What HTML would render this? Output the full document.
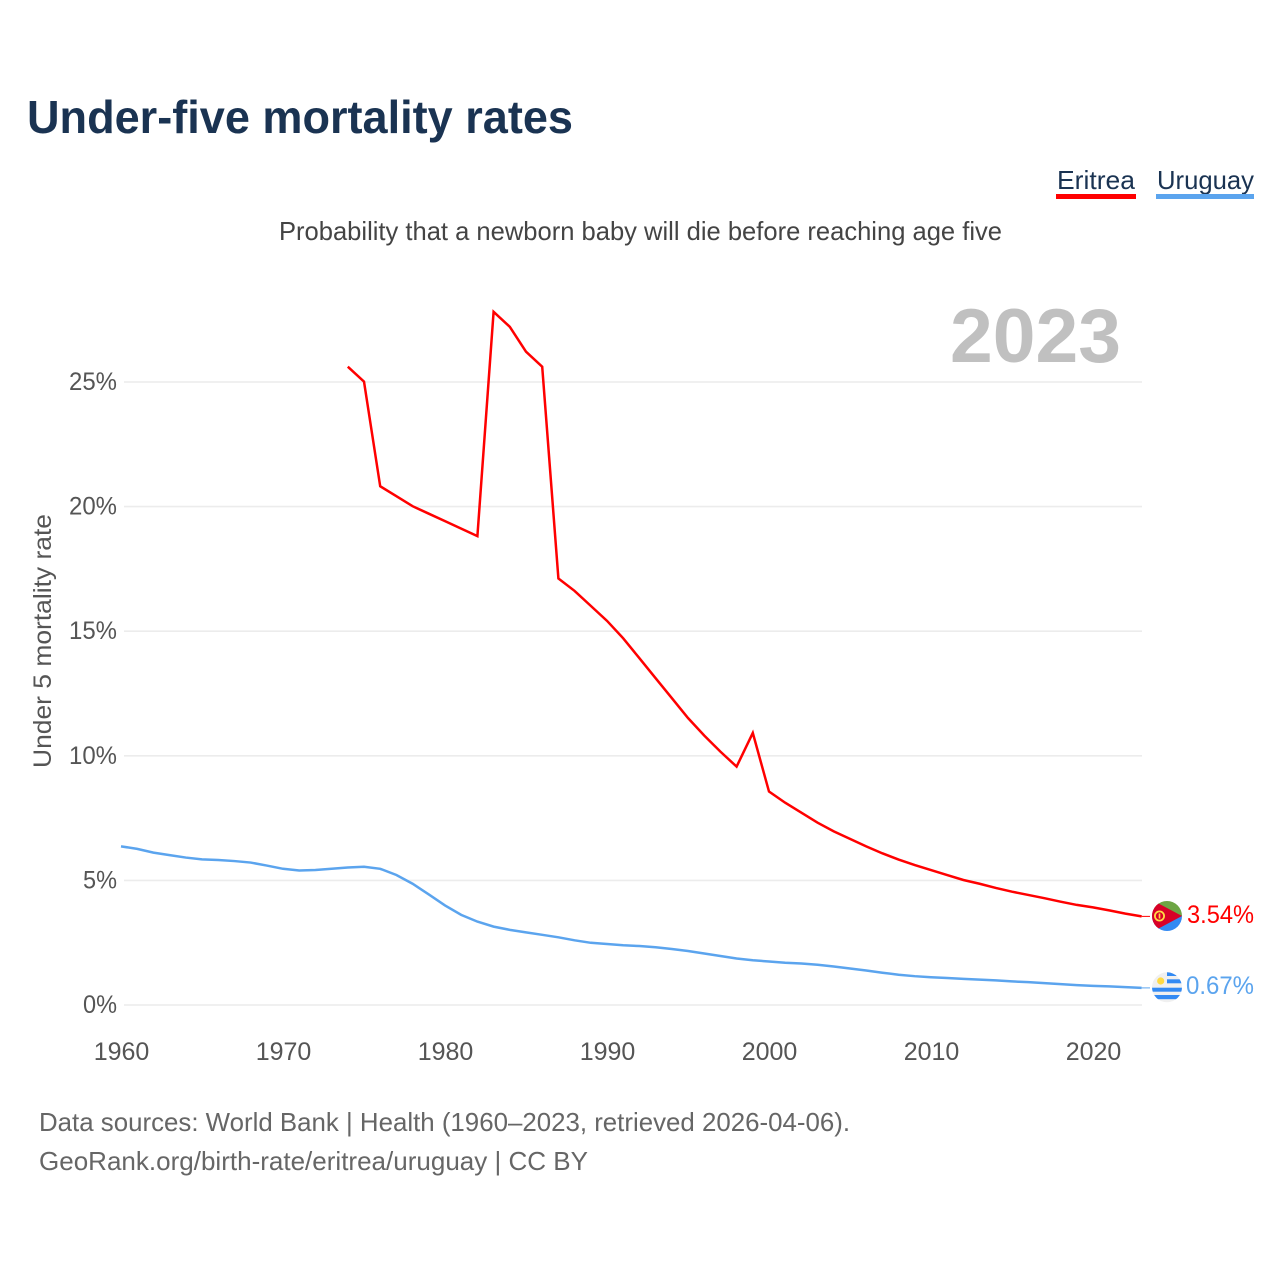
<!DOCTYPE html>
<html lang="en">
<head>
<meta charset="utf-8">
<title>Under-five mortality rates</title>
<style>
html,body{margin:0;padding:0;background:#fff;width:1280px;height:1280px;overflow:hidden}
svg{display:block;font-family:"Liberation Sans",sans-serif}
</style>
</head>
<body>
<svg id="chart" width="1280" height="1280" viewBox="0 0 1280 1280" xmlns="http://www.w3.org/2000/svg">
  <defs>
    <clipPath id="flag-er"><circle cx="1167" cy="916" r="15"/></clipPath>
    <clipPath id="flag-uy"><circle cx="1167" cy="987.3" r="15"/></clipPath>
  </defs>
  <text x="27" y="133" font-size="46" font-weight="700" fill="#1a3352" textLength="546" lengthAdjust="spacingAndGlyphs">Under-five mortality rates</text>

  <g>
    <g>
      <text x="1057" y="189" font-size="26" fill="#1a3352" textLength="78" lengthAdjust="spacingAndGlyphs">Eritrea</text>
      <rect x="1056" y="194" width="80" height="5" fill="#ff0000"/>
    </g>
    <g>
      <text x="1157" y="189" font-size="26" fill="#1a3352" textLength="97" lengthAdjust="spacingAndGlyphs">Uruguay</text>
      <rect x="1156" y="194" width="98" height="5" fill="#5ba4ee"/>
    </g>
  </g>

  <text x="279" y="240" font-size="26" fill="#444444" textLength="723" lengthAdjust="spacingAndGlyphs">Probability that a newborn baby will die before reaching age five</text>
  <text x="950" y="362" font-size="76" font-weight="700" fill="#c0c0c0" textLength="171" lengthAdjust="spacingAndGlyphs">2023</text>

  <g id="grid"></g>
  <g id="yticks"></g>
  <g id="xticks"></g>
  <text transform="translate(51,768) rotate(-90)" x="0" y="0" font-size="25" fill="#555555" textLength="254" lengthAdjust="spacingAndGlyphs">Under 5 mortality rate</text>
  <g id="series"></g>

  <g clip-path="url(#flag-er)">
    <rect x="1150" y="899" width="34" height="17" fill="#6da544"/>
    <rect x="1150" y="916" width="34" height="17" fill="#338af3"/>
    <polygon points="1152,900 1152,932 1182,916" fill="#d80027"/>
    <rect x="1150" y="899" width="2" height="34" fill="#d80027"/>
    <circle cx="1159.5" cy="916" r="4.6" fill="none" stroke="#ffda44" stroke-width="1.8"/>
    <rect x="1158.7" y="913.5" width="1.6" height="5" fill="#ffda44"/>
  </g>
  <g clip-path="url(#flag-uy)">
    <rect x="1150" y="970" width="34" height="34" fill="#f0f0f0"/>
    <rect x="1167" y="972" width="17" height="4" fill="#338af3"/>
    <rect x="1167" y="979.3" width="17" height="4" fill="#338af3"/>
    <rect x="1150" y="987.7" width="34" height="4" fill="#338af3"/>
    <rect x="1150" y="995" width="34" height="4.2" fill="#338af3"/>
    <circle cx="1160.7" cy="981" r="3.6" fill="#ffda44"/>
  </g>

  <text x="1187" y="923" font-size="25" fill="#ff0000" textLength="67" lengthAdjust="spacingAndGlyphs">3.54%</text>
  <text x="1186" y="994" font-size="25" fill="#5ba4ee" textLength="68" lengthAdjust="spacingAndGlyphs">0.67%</text>

  <text x="39" y="1131" font-size="26" fill="#666666" textLength="811" lengthAdjust="spacingAndGlyphs">Data sources: World Bank | Health (1960–2023, retrieved 2026-04-06).</text>
  <text x="39" y="1170" font-size="26" fill="#666666" textLength="549" lengthAdjust="spacingAndGlyphs">GeoRank.org/birth-rate/eritrea/uruguay | CC BY</text>
</svg>
<script>
const yTickValues = [0, 5, 10, 15, 20, 25];
const xTickYears = [1960, 1970, 1980, 1990, 2000, 2010, 2020];
const eritreaStartYear = 1974;
const eritreaValues = [25.6,25.0,20.8,20.4,20.0,19.7,19.4,19.1,18.8,27.8,27.2,26.2,25.6,17.1,16.6,16.0,15.4,14.7,13.9,13.1,12.3,11.5,10.8,10.15,9.55,10.9,8.55,8.1,7.7,7.3,6.95,6.65,6.35,6.07,5.82,5.6,5.4,5.2,5.0,4.85,4.68,4.53,4.4,4.27,4.13,4.0,3.9,3.78,3.65,3.54];
const uruguayStartYear = 1960;
const uruguayValues = [6.35,6.25,6.1,6.0,5.9,5.83,5.8,5.76,5.7,5.58,5.45,5.38,5.4,5.45,5.5,5.53,5.45,5.2,4.85,4.42,3.98,3.6,3.33,3.13,3.0,2.9,2.8,2.7,2.58,2.48,2.43,2.38,2.35,2.3,2.23,2.15,2.05,1.95,1.85,1.78,1.73,1.68,1.65,1.6,1.53,1.45,1.37,1.28,1.2,1.14,1.1,1.07,1.03,1.0,0.97,0.93,0.9,0.86,0.82,0.78,0.75,0.73,0.7,0.67];

const NS = 'http://www.w3.org/2000/svg';
const xScale = function (year) { return 121 + (year - 1960) * 16.2; };
const yScale = function (v) { return 1004.6 - v * 24.92; };

function make(tag, parent) {
  const el = document.createElementNS(NS, tag);
  parent.appendChild(el);
  return el;
}

const grid = document.getElementById('grid');
const yticks = document.getElementById('yticks');
const xticks = document.getElementById('xticks');
const series = document.getElementById('series');

yTickValues.forEach(function (v) {
  const line = make('line', grid);
  
  
  line.setAttribute('x1', 124);
  line.setAttribute('x2', 1142);
  line.setAttribute('y1', 1005 - v * 24.92);
  line.setAttribute('y2', 1005 - v * 24.92);
  line.setAttribute('stroke', '#ececec');
  line.setAttribute('stroke-width', 1.6);

  const label = make('text', yticks);
  
  
  label.setAttribute('x', 117);
  label.setAttribute('y', 1005 - v * 24.92 + 8);
  label.setAttribute('text-anchor', 'end');
  label.setAttribute('font-size', 25);
  label.setAttribute('fill', '#555555');
  label.setAttribute('textLength', v >= 10 ? 48 : 34);
  label.setAttribute('lengthAdjust', 'spacingAndGlyphs');
  label.textContent = v + '%';
});

xTickYears.forEach(function (year) {
  const label = make('text', xticks);
  
  
  label.setAttribute('x', xScale(year) + 0.5);
  label.setAttribute('y', 1060);
  label.setAttribute('text-anchor', 'middle');
  label.setAttribute('font-size', 25);
  label.setAttribute('fill', '#555555');
  label.textContent = String(year);
});

function drawSeries(values, startYear, color, name) {
  const pts = values.map(function (v, i) {
    return xScale(startYear + i).toFixed(2) + ',' + yScale(v).toFixed(2);
  });
  const line = make('polyline', series);
  
  
  line.setAttribute('points', pts.join(' '));
  line.setAttribute('fill', 'none');
  line.setAttribute('stroke', color);
  line.setAttribute('stroke-width', 2.5);
  line.setAttribute('stroke-linejoin', 'miter');

  const last = values[values.length - 1];
  const lead = make('line', series);
  
  
  lead.setAttribute('x1', xScale(startYear + values.length - 1));
  lead.setAttribute('x2', 1150);
  lead.setAttribute('y1', yScale(last));
  lead.setAttribute('y2', yScale(last));
  lead.setAttribute('stroke', color);
  lead.setAttribute('stroke-width', 1);
}

drawSeries(eritreaValues, eritreaStartYear, '#ff0000', 'eritrea-line');
drawSeries(uruguayValues, uruguayStartYear, '#5ba4ee', 'uruguay-line');
</script>
</body>
</html>
